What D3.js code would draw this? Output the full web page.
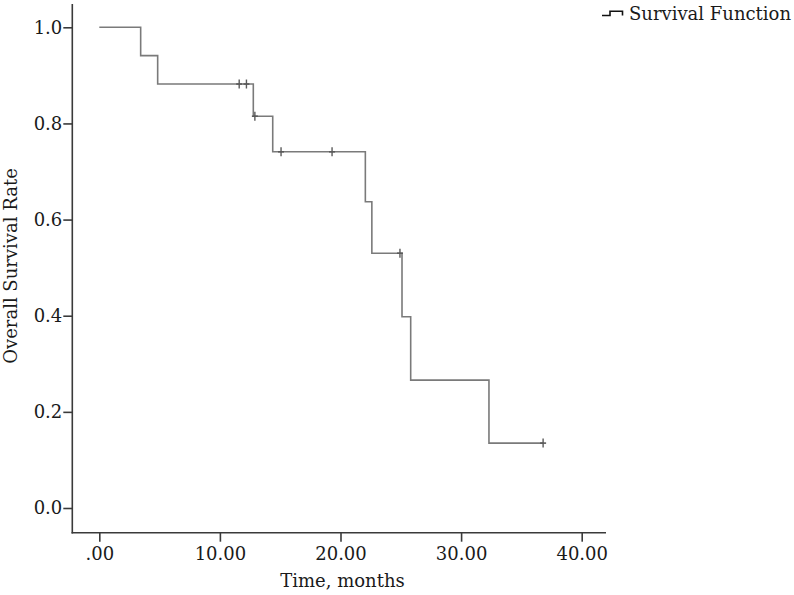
<!DOCTYPE html>
<html>
<head>
<meta charset="utf-8">
<script src="https://cdn.jsdelivr.net/npm/d3@7"></script>
<style>
  body { margin: 0; background: #fff; }
  svg { display: block; }
  text { font-family: "DejaVu Serif", serif; fill: #1a1a1a; }
</style>
</head>
<body>
<svg id="chart" width="794" height="595"></svg>
<script>
// ---- data ----
const stepTimes = [0, 3.43, 4.84, 12.77, 14.38, 22.06, 22.6, 25.1, 25.82, 32.31, 36.8];
const survival  = [1.0, 0.941, 0.882, 0.815, 0.741, 0.637, 0.530, 0.398, 0.266, 0.135, 0.135];
const censorTimes = [11.6, 12.2, 12.9, 15.07, 19.3, 24.93, 36.8];
const censorSurv  = [0.882, 0.882, 0.815, 0.741, 0.741, 0.530, 0.135];
const xTicks = [0, 10, 20, 30, 40];
const xTickLabels = [".00", "10.00", "20.00", "30.00", "40.00"];
const yTicks = [0, 0.2, 0.4, 0.6, 0.8, 1.0];
const yTickLabels = ["0.0", "0.2", "0.4", "0.6", "0.8", "1.0"];
const xTitle = "Time, months";
const yTitle = "Overall Survival Rate";
const legendLabel = "Survival Function";

const svg = d3.select("#chart");
const axisColor = "#3a3a3a";
const lineColor = "#7a7a7a";

const x = d3.scaleLinear().domain([0, 40]).range([99.3, 581.7]);
const y = d3.scaleLinear().domain([0, 1]).range([508, 27.3]);

const axisX0 = 72.3, axisY0 = 532.7;

// axis lines
svg.append("line").attr("x1", axisX0).attr("x2", axisX0).attr("y1", 4).attr("y2", axisY0 + 0.75)
  .attr("stroke", axisColor).attr("stroke-width", 1.6);
svg.append("line").attr("x1", axisX0 - 0.75).attr("x2", 606).attr("y1", axisY0).attr("y2", axisY0)
  .attr("stroke", axisColor).attr("stroke-width", 1.6);

// x axis
const gx = svg.append("g").attr("transform", `translate(0,${axisY0})`)
  .call(d3.axisBottom(x).tickValues(xTicks).tickFormat((d, i) => xTickLabels[i]).tickSize(9).tickPadding(6));
gx.select(".domain").remove();
gx.selectAll(".tick line").attr("stroke", axisColor).attr("stroke-width", 1.6);
gx.selectAll(".tick text").style("font-family", '"DejaVu Serif", serif').style("font-size", "18px").attr("fill", "#1a1a1a");

// y axis
const gy = svg.append("g").attr("transform", `translate(${axisX0},0)`)
  .call(d3.axisLeft(y).tickValues(yTicks).tickFormat((d, i) => yTickLabels[i]).tickSize(9).tickPadding(1));
gy.select(".domain").remove();
gy.selectAll(".tick line").attr("stroke", axisColor).attr("stroke-width", 1.6);
gy.selectAll(".tick text").style("font-family", '"DejaVu Serif", serif').style("font-size", "18px").attr("fill", "#1a1a1a");

// titles
svg.append("text").attr("x", x(20) + 2).attr("y", 587).attr("text-anchor", "middle")
  .style("font-size", "18px").text(xTitle);
svg.append("text").attr("transform", "translate(17,266) rotate(-90)").attr("text-anchor", "middle")
  .style("font-size", "18px").text(yTitle);

// survival step line
const pts = stepTimes.map((t, i) => [t, survival[i]]);
const line = d3.line().x(d => x(d[0])).y(d => y(d[1])).curve(d3.curveStepAfter);
svg.append("path").datum(pts).attr("d", line).attr("fill", "none")
  .attr("stroke", lineColor).attr("stroke-width", 1.6);

// censor marks
svg.selectAll(".cens").data(censorTimes).enter().append("line")
  .attr("x1", d => x(d)).attr("x2", d => x(d))
  .attr("y1", (d, i) => y(censorSurv[i]) - 4.5).attr("y2", (d, i) => y(censorSurv[i]) + 4.5)
  .attr("stroke", "#5a5a5a").attr("stroke-width", 1.4);
svg.selectAll(".censh").data(censorTimes).enter().append("line")
  .attr("x1", d => x(d) - 3).attr("x2", d => x(d) + 3)
  .attr("y1", (d, i) => y(censorSurv[i])).attr("y2", (d, i) => y(censorSurv[i]))
  .attr("stroke", "#5a5a5a").attr("stroke-width", 1.6);

// legend
svg.append("path").attr("d", "M602,15.5 H610 V11.2 H622.5 V15.5")
  .attr("fill", "none").attr("stroke", "#111").attr("stroke-width", 1.6);
svg.append("text").attr("x", 629).attr("y", 20).style("font-size", "18px").text(legendLabel);
</script>
</body>
</html>
